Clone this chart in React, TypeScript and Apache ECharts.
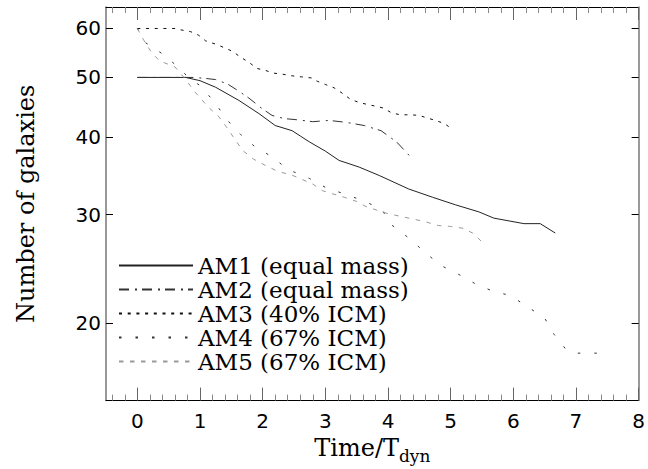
import React, { useEffect, useRef } from "react";
import * as echarts from "echarts";

const seriesNames = [
  "AM1 (equal mass)",
  "AM2 (equal mass)",
  "AM3 (40% ICM)",
  "AM4 (67% ICM)",
  "AM5 (67% ICM)",
];

const am1: [number, number][] = [
  [0, 50], [0.77, 50], [1.0, 49.4], [1.25, 48.2], [1.62, 45.9], [1.94, 43.7],
  [2.2, 41.8], [2.47, 41.0], [2.6, 40.2], [2.75, 39.3], [3.0, 38.0], [3.22, 36.7],
  [3.54, 35.8], [3.86, 34.7], [4.33, 33.0], [4.71, 32.0], [5.08, 31.1], [5.45, 30.3],
  [5.69, 29.6], [6.17, 29.0], [6.43, 29.0], [6.67, 28.0],
];

const am2: [number, number][] = [
  [0, 50], [0.9, 50], [1.1, 49.8], [1.25, 49.6], [1.44, 48.8], [1.62, 47.5],
  [1.78, 46.3], [1.98, 44.6], [2.15, 43.4], [2.34, 42.9], [2.55, 42.7], [2.8, 42.4],
  [3.06, 42.6], [3.33, 42.3], [3.62, 41.8], [3.89, 41.0], [4.14, 39.3], [4.38, 37.0],
];

const am3: [number, number][] = [
  [0, 60], [0.62, 60], [0.69, 59.7], [0.85, 59.3], [0.98, 58.5], [1.09, 57.3],
  [1.25, 56.6], [1.38, 55.9], [1.52, 55.1], [1.65, 53.9], [1.78, 52.9], [1.91, 51.7],
  [2.05, 51.3], [2.18, 50.8], [2.32, 50.6], [2.47, 50.3], [2.62, 50.1], [2.78, 49.9],
  [2.87, 49.3], [3.0, 48.7], [3.14, 48.1], [3.25, 47.3], [3.4, 46.1], [3.55, 45.5],
  [3.68, 45.2], [3.81, 44.9], [3.93, 44.6], [4.06, 43.8], [4.2, 43.5], [4.37, 43.5],
  [4.5, 43.4], [4.62, 43.0], [4.76, 42.6], [4.9, 42.1], [5.02, 41.3],
];

const am4: [number, number][] = [
  [0, 60], [0.12, 57.0], [0.4, 54.6], [0.6, 52.5], [0.8, 50.2], [1.0, 48.5],
  [1.2, 46.0], [1.45, 42.5], [1.65, 40.4], [1.88, 38.6], [2.15, 37.2], [2.4, 35.5],
  [2.75, 34.3], [3.0, 33.2], [3.3, 32.4], [3.6, 31.6], [3.9, 30.6], [4.05, 28.9],
  [4.35, 27.4], [4.6, 26.0], [4.85, 24.8], [5.13, 24.0], [5.42, 23.1], [5.7, 22.5],
  [5.95, 22.2], [6.22, 21.3], [6.5, 20.4], [6.65, 19.2], [6.85, 18.1], [7.0, 17.9],
  [7.45, 17.9],
];

const am5: [number, number][] = [
  [0, 60], [0.1, 57.5], [0.22, 55.0], [0.35, 53.2], [0.6, 52.0], [0.78, 49.5],
  [0.9, 47.6], [1.13, 44.8], [1.3, 43.2], [1.42, 41.6], [1.55, 39.8], [1.68, 38.1],
  [1.85, 36.9], [2.05, 36.0], [2.25, 35.2], [2.45, 34.8], [2.6, 34.3], [2.8, 33.6],
  [2.95, 32.8], [3.12, 32.4], [3.3, 32.0], [3.5, 31.5], [3.65, 30.9], [3.82, 30.5],
  [4.0, 30.1], [4.2, 29.8], [4.4, 29.5], [4.6, 29.2], [4.8, 28.8], [5.0, 28.7],
  [5.2, 28.5], [5.35, 28.0], [5.5, 27.1],
];

const xMajorTicks = [0, 1, 2, 3, 4, 5, 6, 7, 8];
const yTicks = [20, 30, 40, 50, 60];

export default function App() {
  const ref = useRef<HTMLDivElement>(null);

  useEffect(() => {
    const chart = echarts.init(ref.current!, null, { renderer: "svg" });

    const xMinor: number[] = [];
    for (let k = -2; k < 40; k++) {
      if (k % 5 !== 0) xMinor.push(Math.round(k * 2) / 10);
    }

    const baseX = {
      type: "value",
      min: -0.5,
      max: 8,
      splitLine: { show: false },
      axisLabel: { show: false },
      axisTick: { show: false },
      axisLine: { show: false },
    };

    const tickFont = { fontFamily: "DejaVu Sans", fontSize: 20, color: "#000" };

    const styles = [
      { color: "#222", width: 1, type: "solid" as any },
      { color: "#333", width: 1, type: [10, 6, 2, 5] },
      { color: "#111", width: 1, type: [3, 5.7] },
      { color: "#333", width: 1, type: [2.5, 14] },
      { color: "#999", width: 1, type: [4.5, 6.5] },
    ];
    const datasets = [am1, am2, am3, am4, am5];

    chart.setOption({
      animation: false,
      grid: { left: 106, right: 7, top: 7, bottom: 66 },
      legend: {
        orient: "vertical",
        left: 118,
        top: 254,
        padding: 0,
        itemWidth: 74,
        itemHeight: 14,
        itemGap: 1,
        selectedMode: false,
        itemStyle: { opacity: 0, borderWidth: 0 },
        textStyle: { fontFamily: "DejaVu Serif", fontSize: 23, color: "#000", lineHeight: 23 },
        data: seriesNames,
      },
      xAxis: [
        {
          ...baseX,
          position: "bottom",
          axisLine: { show: true, onZero: false, lineStyle: { color: "#000", width: 1 } },
          axisTick: { show: true, inside: true, length: 13, customValues: xMajorTicks, lineStyle: { color: "#666" } },
          axisLabel: { show: true, customValues: xMajorTicks, margin: 10, ...tickFont },
          name: "{m|Time/T}{s|dyn}",
          nameLocation: "middle",
          nameGap: 27,
          nameTextStyle: {
            rich: {
              m: { fontFamily: "DejaVu Serif", fontSize: 24, color: "#000", lineHeight: 30 },
              s: { fontFamily: "DejaVu Serif", fontSize: 17, color: "#000", padding: [16, 0, 0, 0] },
            },
          },
        },
        {
          ...baseX,
          position: "bottom",
          axisTick: { show: true, inside: true, length: 6, customValues: xMinor, lineStyle: { color: "#888" } },
        },
        {
          ...baseX,
          position: "top",
          axisLine: { show: true, onZero: false, lineStyle: { color: "#000", width: 1 } },
          axisTick: { show: true, inside: true, length: 13, customValues: xMajorTicks, lineStyle: { color: "#666" } },
        },
        {
          ...baseX,
          position: "top",
          axisTick: { show: true, inside: true, length: 6, customValues: xMinor, lineStyle: { color: "#888" } },
        },
      ],
      yAxis: [
        {
          type: "log",
          min: 15,
          max: 65,
          position: "left",
          splitLine: { show: false },
          minorTick: { show: false },
          axisLine: { show: true, onZero: false, lineStyle: { color: "#777", width: 1.5 } },
          axisTick: { show: true, inside: true, length: 7, customValues: yTicks, lineStyle: { color: "#000" } },
          axisLabel: { show: true, customValues: yTicks, margin: 5, ...tickFont },
          name: "Number of galaxies",
          nameLocation: "middle",
          nameGap: 68,
          nameRotate: 90,
          nameTextStyle: { fontFamily: "DejaVu Serif", fontSize: 24, color: "#000" },
        },
        {
          type: "log",
          min: 15,
          max: 65,
          position: "right",
          splitLine: { show: false },
          minorTick: { show: false },
          axisLine: { show: true, onZero: false, lineStyle: { color: "#777", width: 1.5 } },
          axisTick: { show: true, inside: true, length: 7, customValues: yTicks, lineStyle: { color: "#000" } },
          axisLabel: { show: false },
        },
      ],
      series: datasets.map((d, i) => ({
        type: "line",
        name: seriesNames[i],
        data: d,
        xAxisIndex: 0,
        yAxisIndex: 0,
        symbol: "none",
        silent: true,
        itemStyle: { color: styles[i].color },
        lineStyle: styles[i],
      })),
    });

    return () => chart.dispose();
  }, []);

  return (
    <div
      ref={ref}
      style={{ position: "absolute", left: 0, top: 0, width: 648, height: 469, background: "#fff" }}
    />
  );
}
